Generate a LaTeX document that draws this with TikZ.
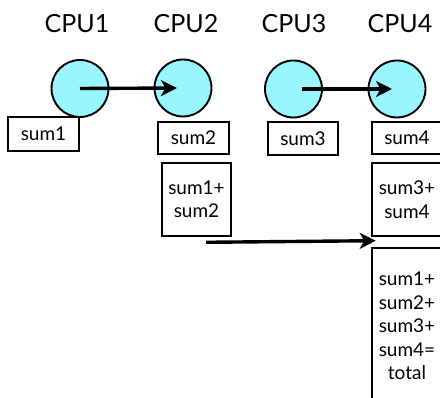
\documentclass[tikz,border=0pt]{standalone}
\usepackage{fontspec}
\setmainfont{Lato}
\usetikzlibrary{arrows.meta}
\definecolor{cpucyan}{RGB}{153,245,255}

\tikzset{
  cpulabel/.style={anchor=base,inner sep=0pt,font=\fontsize{25}{30}\selectfont},
  cpu/.style={circle,draw,line width=1.9pt,fill=cpucyan,minimum size=57pt,inner sep=0pt},
  sumbox/.style={draw,line width=2.6pt,inner sep=0pt,align=center,font=\fontsize{19}{23.5}\selectfont},
  sendarrow/.style={line width=3.4pt,-{Stealth[length=16pt,width=16pt,inset=4.5pt]}},
}

\begin{document}
\begin{tikzpicture}[x=1pt,y=1pt,yscale=-1,xscale=1]
\useasboundingbox (0,0) rectangle (440,398);
\clip (0,0) rectangle (440,398);

% CPU labels
\node [cpulabel] (lab1) at (77,33) {CPU1};
\node [cpulabel] (lab2) at (186,33) {CPU2};
\node [cpulabel] (lab3) at (294,33) {CPU3};
\node [cpulabel] (lab4) at (400,33) {CPU4};

% Circles
\node [cpu] (c1) at (80,88.5) {};
\node [cpu] (c2) at (183,88) {};
\node [cpu] (c3) at (293.5,89) {};
\node [cpu] (c4) at (397,89) {};

% Local sums
\node [sumbox,minimum width=71pt,minimum height=34pt] (s1) at (43.5,134) {sum1};
\node [sumbox,minimum width=71pt,minimum height=32pt] (s2) at (193.5,138) {sum2};
\node [sumbox,minimum width=70pt,minimum height=33pt] (s3) at (303,138.5) {sum3};
\node [sumbox,minimum width=70pt,minimum height=32pt] (s4) at (407,138) {sum4};

% Partial sums
\node [sumbox,minimum width=69pt,minimum height=73pt] (p12) at (196.5,199.5) {sum1+\\sum2};
\node [sumbox,minimum width=70pt,minimum height=73pt] (p34) at (407,199.5) {sum3+\\sum4};

% Total
\node [sumbox,minimum width=70pt,minimum height=156pt] (tot) at (407,326)
  {sum1+\\sum2+\\sum3+\\sum4=\\total};

% Sends
\draw [sendarrow] (c1.center) -- ([xshift=-6pt]c2.center);
\draw [sendarrow] ([xshift=8.5pt]c3.center) -- ([xshift=-5pt]c4.center);
\draw [sendarrow] ([xshift=9.5pt,yshift=5pt]p12.south) -- ([xshift=5pt,yshift=-6pt]tot.north west);

\end{tikzpicture}
\end{document}
